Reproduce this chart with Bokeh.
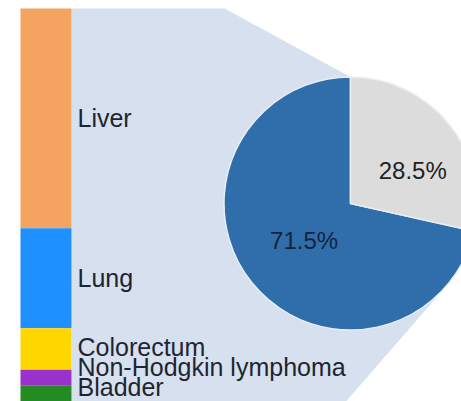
import math
from bokeh.plotting import figure
from bokeh.models import Range1d, ColumnDataSource
from bokeh.core.properties import value
from bokeh.embed import file_html
from bokeh.resources import INLINE

# ---- data ----
sites = ["Liver", "Lung", "Colorectum", "Non-Hodgkin lymphoma", "Bladder"]
site_pct = [22.2, 10.1, 4.2, 1.6, 1.6]
site_colors = ["#F4A460", "#1E90FF", "#FFD700", "#9932CC", "#228B22"]
label_shift_px = [0, 0, -2, -11, -7]

pie_labels = ["71.5%", "28.5%"]
pie_shares = [71.5, 28.5]
pie_colors = ["#2F6EAA", "#DCDCDC"]
pie_text_colors = ["#15233d", "#222222"]

# ---- layout (pixel positions divided by S give data units) ----
W, H = 461, 401
S = 9.9                     # px per percentage unit
bar_top = 8 / S
bar_left, bar_right = 20 / S, 71 / S
cx, cy, r = 350 / S, 203 / S, 126.5 / S
label_x = 77 / S
top_slope = 0.544
tangent_deg = 41.0
FONT = "Liberation Sans"

p = figure(width=W, height=H, x_range=Range1d(0, W / S), y_range=Range1d(H / S, 0),
           output_backend="svg", toolbar_location=None, min_border=0)
p.axis.visible = False
p.grid.visible = False
p.outline_line_color = None
p.background_fill_color = "white"
p.border_fill_color = "white"

# connector polygon
pie_top = (cx, cy - r)
corner_x = pie_top[0] - (pie_top[1] - bar_top) / top_slope
a = math.radians(tangent_deg)
tx, ty = cx + r * math.cos(a), cy + r * math.sin(a)
dx, dy = -math.sin(a), math.cos(a)
t = (tx - bar_right) / -dx
by = ty + t * dy
p.patch([bar_right, corner_x, pie_top[0], cx, tx, bar_right],
        [bar_top, bar_top, pie_top[1], cy, ty, by],
        fill_color="#B0C4DE", fill_alpha=0.52, line_color=None)

# stacked bar
tops, bottoms = [], []
acc = bar_top
for v in site_pct:
    tops.append(acc)
    acc += v
    bottoms.append(acc)
bar_src = ColumnDataSource(dict(top=tops, bottom=bottoms, color=site_colors, site=sites,
                                ymid=[(a_ + b_) / 2 for a_, b_ in zip(tops, bottoms)],
                                shift=label_shift_px))
p.quad(left=bar_left, right=bar_right, top="top", bottom="bottom", fill_color="color",
       line_color=None, source=bar_src)
p.text(x=label_x, y="ymid", text="site", y_offset="shift", source=bar_src,
       text_font=value(FONT), text_font_size="25px", text_color="#1f2530",
       text_baseline="middle", text_align="left")

# pie: grey slice runs clockwise from 12 o'clock, blue slice takes the rest
blue_start, blue_end = 90.0, 90.0 + pie_shares[0] / 100 * 360
grey_start, grey_end = blue_end - 360, 90.0
starts = [math.radians(blue_start), math.radians(grey_start)]
ends = [math.radians(blue_end), math.radians(grey_end)]
pie_src = ColumnDataSource(dict(start=starts, end=ends, color=pie_colors))
p.wedge(x=cx, y=cy, radius=r, start_angle="start", end_angle="end", fill_color="color",
        line_color="#e6eef6", line_width=1.5, source=pie_src)

mid_angles = [(s_ + e_) / 2 for s_, e_ in zip(starts, ends)]
rf = [0.47, 0.56]
xo = [0, 7]
yo = [0, 11]
lx = [cx + f * r * math.cos(m) for f, m in zip(rf, mid_angles)]
ly = [cy - f * r * math.sin(m) for f, m in zip(rf, mid_angles)]
p.text(x=lx, y=ly, text=pie_labels, x_offset=xo, y_offset=yo, text_color=pie_text_colors,
       text_font=value(FONT), text_font_size="24px", text_align="center", text_baseline="middle")

open("out.html", "w").write(file_html(p, INLINE))
